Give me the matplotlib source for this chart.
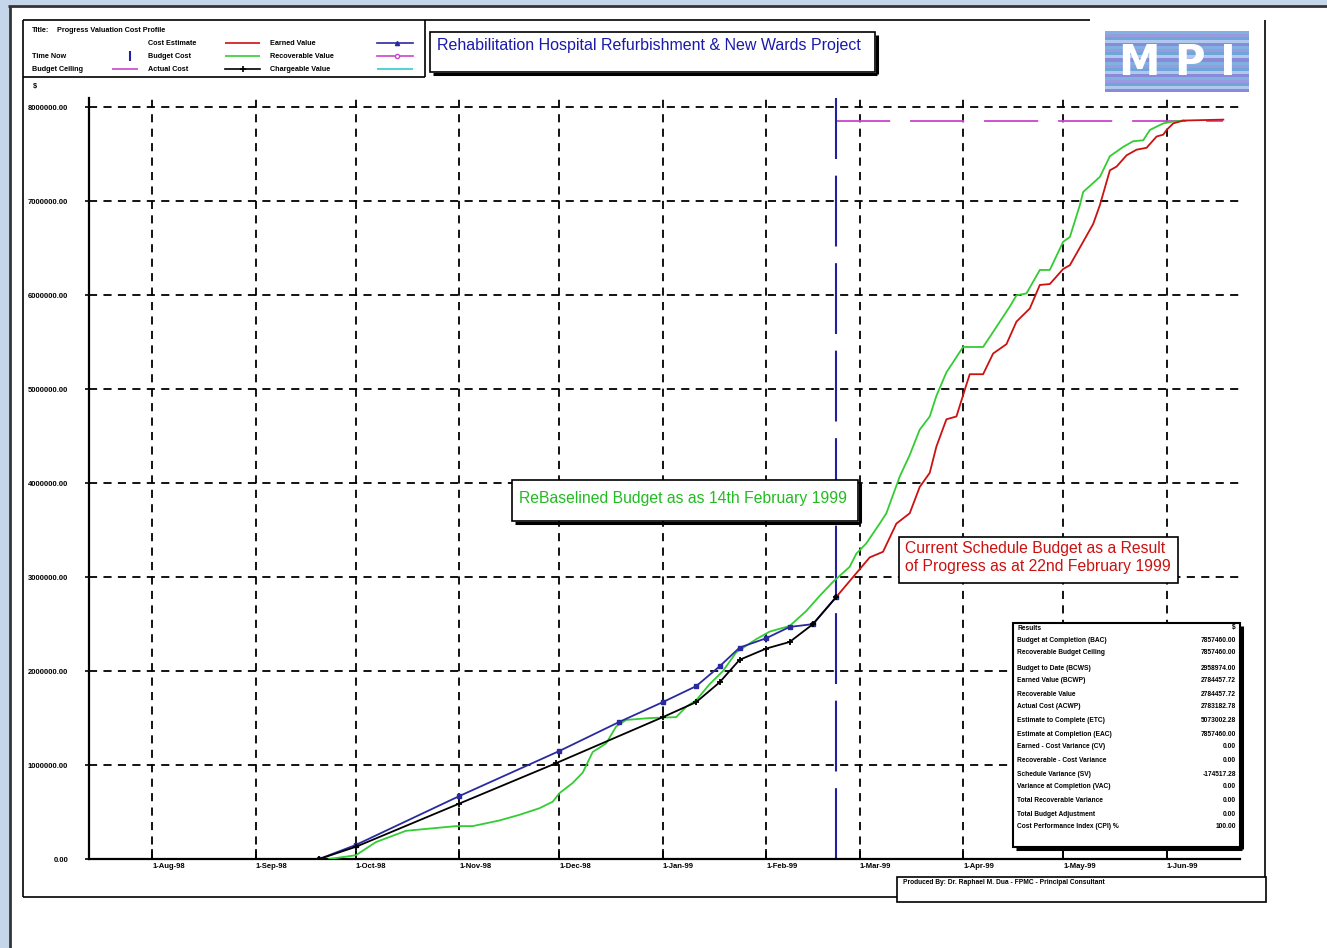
import datetime as dt
import matplotlib
matplotlib.use("Agg")
import matplotlib.pyplot as plt
import matplotlib.dates as mdates
from matplotlib.patches import Rectangle
from matplotlib.ticker import FuncFormatter

plt.rcParams['font.family'] = ['Liberation Sans', 'DejaVu Sans']

# ---- data (values in dollars) ----
budget_dates = ["1998-09-23", "1998-10-01", "1998-10-07", "1998-10-16", "1998-10-22", "1998-10-31",
                "1998-11-05", "1998-11-09", "1998-11-13", "1998-11-19", "1998-11-25", "1998-11-29",
                "1998-12-01", "1998-12-05", "1998-12-08", "1998-12-11", "1998-12-15", "1998-12-18",
                "1998-12-21", "1998-12-28", "1999-01-05", "1999-01-08", "1999-01-11", "1999-01-15",
                "1999-01-19", "1999-01-23", "1999-01-29", "1999-02-02", "1999-02-08", "1999-02-13",
                "1999-02-17", "1999-02-21", "1999-02-26", "1999-02-28", "1999-03-03", "1999-03-07",
                "1999-03-09", "1999-03-13", "1999-03-16", "1999-03-19", "1999-03-22", "1999-03-24",
                "1999-03-27", "1999-04-01", "1999-04-07", "1999-04-10", "1999-04-15", "1999-04-17",
                "1999-04-20", "1999-04-24", "1999-04-27", "1999-05-01", "1999-05-03", "1999-05-06",
                "1999-05-07", "1999-05-12", "1999-05-15", "1999-05-19", "1999-05-22", "1999-05-25",
                "1999-05-27", "1999-05-31", "1999-06-03", "1999-06-06"]
budget_cost = [0, 0.04, 0.18, 0.30, 0.32, 0.35,
               0.35, 0.38, 0.41, 0.47, 0.54, 0.61,
               0.70, 0.81, 0.92, 1.14, 1.23, 1.41,
               1.48, 1.50, 1.51, 1.62, 1.69, 1.86,
               2.00, 2.20, 2.34, 2.42, 2.48, 2.64,
               2.80, 2.95, 3.11, 3.25, 3.36, 3.57,
               3.68, 4.07, 4.30, 4.57, 4.71, 4.93,
               5.18, 5.45, 5.45, 5.61, 5.88, 6.00,
               6.02, 6.27, 6.27, 6.57, 6.62, 6.96,
               7.10, 7.26, 7.48, 7.58, 7.64, 7.65,
               7.76, 7.83, 7.85, 7.86]

estimate_dates = ["1999-02-22", "1999-02-27", "1999-03-04", "1999-03-08", "1999-03-12", "1999-03-16",
                  "1999-03-19", "1999-03-22", "1999-03-24", "1999-03-27", "1999-03-30", "1999-04-02",
                  "1999-04-03", "1999-04-07", "1999-04-10", "1999-04-14", "1999-04-17", "1999-04-21",
                  "1999-04-24", "1999-04-27", "1999-05-01", "1999-05-03", "1999-05-07", "1999-05-10",
                  "1999-05-12", "1999-05-15", "1999-05-17", "1999-05-20", "1999-05-23", "1999-05-26",
                  "1999-05-29", "1999-05-31", "1999-06-01", "1999-06-03", "1999-06-06", "1999-06-18"]
cost_estimate = [2.79, 3.00, 3.21, 3.27, 3.57, 3.68,
                 3.96, 4.11, 4.39, 4.68, 4.71, 5.05,
                 5.16, 5.16, 5.38, 5.48, 5.72, 5.86,
                 6.11, 6.12, 6.28, 6.32, 6.57, 6.76,
                 6.96, 7.33, 7.37, 7.49, 7.55, 7.57,
                 7.69, 7.71, 7.76, 7.83, 7.86, 7.87]

earned_dates = ["1998-09-20", "1998-10-01", "1998-11-01", "1998-12-01", "1998-12-19", "1999-01-01",
                "1999-01-11", "1999-01-18", "1999-01-24", "1999-02-01", "1999-02-08", "1999-02-15",
                "1999-02-22"]
earned_value = [0, 0.15, 0.67, 1.15, 1.46, 1.67,
                1.84, 2.05, 2.25, 2.35, 2.47, 2.50,
                2.79]

actual_dates = ["1998-09-20", "1998-10-01", "1998-11-01", "1998-11-30", "1999-01-01",
                "1999-01-11", "1999-01-18", "1999-01-24", "1999-02-01", "1999-02-08", "1999-02-15",
                "1999-02-22"]
actual_cost = [0, 0.13, 0.59, 1.02, 1.51,
               1.67, 1.88, 2.12, 2.24, 2.31, 2.50,
               2.79]

time_now = "1999-02-22"
ceiling_dates = ["1999-02-22", "1999-06-18"]
budget_ceiling = [7.86, 7.86]

month_ticks = ["1998-08-01", "1998-09-01", "1998-10-01", "1998-11-01", "1998-12-01", "1999-01-01",
               "1999-02-01", "1999-03-01", "1999-04-01", "1999-05-01", "1999-06-01"]
month_labels = ["1-Aug-98", "1-Sep-98", "1-Oct-98", "1-Nov-98", "1-Dec-98", "1-Jan-99",
                "1-Feb-99", "1-Mar-99", "1-Apr-99", "1-May-99", "1-Jun-99"]
y_ticks = [0, 1, 2, 3, 4, 5, 6, 7, 8]

results_labels = ["Budget at Completion (BAC)", "Recoverable Budget Ceiling", "Budget to Date (BCWS)",
                  "Earned Value (BCWP)", "Recoverable Value", "Actual Cost (ACWP)",
                  "Estimate to Complete (ETC)", "Estimate at Completion (EAC)",
                  "Earned - Cost Variance (CV)", "Recoverable - Cost Variance", "Schedule Variance (SV)",
                  "Variance at Completion (VAC)", "Total Recoverable Variance", "Total Budget Adjustment",
                  "Cost Performance Index (CPI) %"]
results_values = ["7857460.00", "7857460.00", "2958974.00", "2784457.72", "2784457.72", "2783182.78",
                  "5073002.28", "7857460.00", "0.00", "0.00", "-174517.28", "0.00", "0.00", "0.00",
                  "100.00"]


def d(s):
    return mdates.date2num(dt.datetime.strptime(s, "%Y-%m-%d"))


def m(vals):
    return [v * 1e6 for v in vals]


W, H = 1327, 948
fig = plt.figure(figsize=(W / 100, H / 100), dpi=100)
fig.patch.set_facecolor('white')

# main chart area (pixel box 89..1240 x 98..859)
L, R, T, B = 89, 1240, 98, 859
ax = fig.add_axes([L / W, 1 - B / H, (R - L) / W, (B - T) / H])
ax.set_xlim(d("1998-07-13"), d("1999-06-23"))
ax.set_ylim(0, 8.1e6)
for s in ['top', 'right']:
    ax.spines[s].set_visible(False)
for s in ['left', 'bottom']:
    ax.spines[s].set_linewidth(1.6)

ax.set_xticks([d(x) for x in month_ticks])
ax.set_xticklabels(month_labels, fontsize=5.5, fontweight='bold', ha='left')
ax.set_yticks(m(y_ticks))
ax.yaxis.set_major_formatter(FuncFormatter(lambda v, p: "%.2f" % v))
ax.tick_params(axis='x', direction='in', length=7, width=1.2, pad=3)
ax.tick_params(axis='y', direction='out', length=3, width=1.2, pad=12, labelsize=5.5)
for lab in ax.get_yticklabels():
    lab.set_fontweight('bold')
ax.grid(True, color='black', linestyle=(0, (4.5, 3.5)), linewidth=1.3)
ax.set_axisbelow(True)

gd = [d(x) for x in budget_dates]
ax.plot(gd, m(budget_cost), color='#33cc33', lw=1.3, zorder=3)
ax.plot([d(x) for x in estimate_dates], m(cost_estimate), color='#cc1111', lw=1.3, zorder=3)
ax.plot([d(x) for x in earned_dates], m(earned_value), color='#2a2aa0', lw=1.3,
        marker='s', ms=3, zorder=4)
ax.plot([d(x) for x in actual_dates], m(actual_cost), color='black', lw=1.3,
        marker='+', ms=5, mew=1.3, zorder=5)
ax.plot([d(x) for x in ceiling_dates], m(budget_ceiling), color='#cc44cc', lw=1.3,
        linestyle=(0, (30, 11)), zorder=2)
ax.axvline(d(time_now), color='#2020a0', lw=1.5, linestyle=(0, (34, 8)), zorder=2)

# overlay in pixel coordinates for frames, legend and notes
ov = fig.add_axes([0, 0, 1, 1], zorder=10)
ov.set_xlim(0, W)
ov.set_ylim(H, 0)
ov.axis('off')
ov.patch.set_visible(False)


def line(x0, y0, x1, y1, **kw):
    kw.setdefault('color', 'black')
    kw.setdefault('lw', 1.2)
    ov.plot([x0, x1], [y0, y1], solid_capstyle='butt', **kw)


def box(x0, y0, x1, y1, lw=1.2, shadow=False, fc='white'):
    ov.add_patch(Rectangle((x0, y0), x1 - x0, y1 - y0, fc=fc, ec='black', lw=lw))
    if shadow:
        line(x0 + 3, y1 + 1.5, x1 + 1.5, y1 + 1.5, lw=2.2)
        line(x1 + 1.5, y0 + 3, x1 + 1.5, y1 + 1.5, lw=2.2)


# window border
ov.add_patch(Rectangle((0, 0), W, 4.5, fc='#c6d6ea', ec='none'))
ov.add_patch(Rectangle((0, 0), 8.5, H, fc='#c6d6ea', ec='none'))
line(8, 5.5, W, 5.5, lw=2.0, color='#333333')
line(9.5, 5.5, 9.5, H, lw=2.0, color='#333333')

# chart frame
line(23, 20, 1090, 20)
line(23, 20, 23, 897)
line(23, 897, 897, 897)
line(1265, 20, 1265, 877)

# legend block
line(23, 77, 425, 77)
line(425, 20, 425, 77)
fs = 5.2
ov.text(32, 30, "Title:", fontsize=fs, fontweight='bold', va='center')
ov.text(57, 30, "Progress Valuation Cost Profile", fontsize=fs, fontweight='bold', va='center')
rows = [43, 56, 69]
ov.text(148, rows[0], "Cost Estimate", fontsize=fs, fontweight='bold', va='center')
line(225, rows[0], 260, rows[0], color='#cc1111')
ov.text(270, rows[0], "Earned Value", fontsize=fs, fontweight='bold', va='center')
ov.plot([377, 413], [rows[0], rows[0]], color='#2a2aa0', lw=1.2)
ov.plot([397], [rows[0]], color='#2a2aa0', marker='^', ms=3)
ov.text(32, rows[1], "Time Now", fontsize=fs, fontweight='bold', va='center')
line(130, rows[1] - 5, 130, rows[1] + 5, color='#2020a0', lw=1.5)
ov.text(148, rows[1], "Budget Cost", fontsize=fs, fontweight='bold', va='center')
line(225, rows[1], 260, rows[1], color='#33cc33')
ov.text(270, rows[1], "Recoverable Value", fontsize=fs, fontweight='bold', va='center')
ov.plot([377, 413], [rows[1], rows[1]], color='#cc44cc', lw=1.2)
ov.plot([397], [rows[1]], color='#cc44cc', marker='o', ms=3, mfc='white')
ov.text(32, rows[2], "Budget Ceiling", fontsize=fs, fontweight='bold', va='center')
line(112, rows[2], 138, rows[2], color='#cc44cc')
ov.text(148, rows[2], "Actual Cost", fontsize=fs, fontweight='bold', va='center')
ov.plot([225, 260], [rows[2], rows[2]], color='black', lw=1.2)
ov.plot([243], [rows[2]], color='black', marker='+', ms=5, mew=1.2)
ov.text(270, rows[2], "Chargeable Value", fontsize=fs, fontweight='bold', va='center')
line(377, rows[2], 413, rows[2], color='#33cccc')
ov.text(33, 86, "$", fontsize=fs, fontweight='bold', va='center')

# project title
box(430, 32, 875, 72, shadow=True)
ov.text(437, 45, "Rehabilitation Hospital Refurbishment & New Wards Project", fontsize=11.5,
        color='#1a1aaa', va='center')

# logo
lx0, ly0, lx1, ly1 = 1105, 31, 1249, 92
stripe_cols = ['#7fb2e0', '#9a9ae0', '#6fa6d8', '#b0c8ee', '#8a8ad8']
n = 20
for i in range(n):
    ov.add_patch(Rectangle((lx0, ly0 + i * (ly1 - ly0) / n), lx1 - lx0, (ly1 - ly0) / n,
                           fc=stripe_cols[i % len(stripe_cols)], ec='none'))
ov.text((lx0 + lx1) / 2, (ly0 + ly1) / 2 + 1, "M P I", fontsize=30, fontweight='bold',
        color='white', ha='center', va='center', family='DejaVu Sans')

# annotations
box(512, 480, 858, 521, shadow=True)
ov.text(519, 498, "ReBaselined Budget as as 14th February 1999", fontsize=11.3,
        color='#22bb22', va='center')
box(899, 537, 1178, 583, lw=1.2)
ov.text(905, 549, "Current Schedule Budget as a Result", fontsize=11.3, color='#cc1111', va='center')
ov.text(905, 566, "of Progress as at 22nd February 1999", fontsize=11.3, color='#cc1111', va='center')

# results table
box(1013, 623, 1240, 847, lw=1.5, shadow=True)
tfs = 4.8
ov.text(1017, 628, "Results", fontsize=tfs, fontweight='bold', va='center')
ov.text(1236, 628, "$", fontsize=tfs, fontweight='bold', va='center', ha='right')
row_y = [640, 653, 669, 681, 694, 707, 720, 734, 747, 761, 774, 787, 801, 814, 827]
for yy, lab, val in zip(row_y, results_labels, results_values):
    ov.text(1017, yy, lab, fontsize=tfs, fontweight='bold', va='center')
    ov.text(1236, yy, val, fontsize=tfs, fontweight='bold', va='center', ha='right')

# produced by
box(897, 877, 1266, 902, lw=1.2)
ov.text(903, 883, "Produced By: Dr. Raphael M. Dua - FPMC - Principal Consultant", fontsize=4.8,
        fontweight='bold', va='center')

fig.savefig('out.png', dpi=100)
plt.close(fig)
